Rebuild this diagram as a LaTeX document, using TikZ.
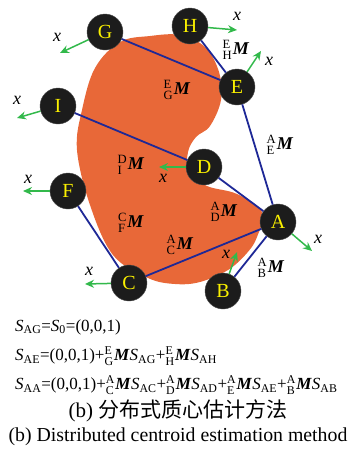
\documentclass[tikz,border=0pt]{standalone}
\usepackage{fontspec}
\usepackage{amsmath}
\setmainfont{Liberation Serif}
\newfontfamily\cjk{Noto Sans CJK SC}
\usepackage{tikz}
\usetikzlibrary{arrows, arrows.meta, positioning}
\definecolor{blobor}{RGB}{232,104,56}
\definecolor{linkblue}{RGB}{30,40,150}
\definecolor{axgreen}{RGB}{50,185,75}
\definecolor{agentfill}{RGB}{28,28,28}
\definecolor{agentyel}{RGB}{250,240,0}
\tikzstyle{link} = [line width=1.8pt,-,linkblue]
\tikzstyle{xarrow} = [line width=1.5pt,-{Stealth[length=9pt,width=8pt]},axgreen]
\newcommand{\pM}[2]{$^{\text{#1}}_{\text{#2}}$\hspace{0.5pt}\textbf{\textit{M}}}
\newcommand{\Sub}[1]{\textit{S}$_{\text{#1}}$}

\begin{document}
\begin{tikzpicture}[
    x=1pt, y=-1pt,
    font=\fontsize{17}{20}\selectfont,
    agent/.style={circle, draw=black!70, fill=agentfill, text=agentyel, minimum size=36pt, inner sep=0pt, font=\fontsize{20}{22}\selectfont},
    axlabel/.style={font=\fontsize{18}{20}\selectfont\itshape},
    mlabel/.style={inner sep=0pt, font=\fontsize{18}{20}\selectfont}
]
    \useasboundingbox (0,0) rectangle (357,456);

    % target region
    \fill[blobor] plot[smooth cycle, tension=0.6] coordinates {
        (120,42) (150,36) (180,35) (205,47) (219,72) (221,100) (210,126)
        (196,137) (188,152) (189,172) (207,186) (237,194) (262,212)
        (257,237) (247,253) (228,270) (200,282) (175,284) (148,278)
        (113,255) (90,205) (77,150) (82,110) (95,68)};

    \node[agent] (G) at (105,32) {G};
    \node[agent] (H) at (190,26) {H};
    \node[agent] (E) at (237,87) {E};
    \node[agent] (I) at (58,106) {I};
    \node[agent] (D) at (204,167) {D};
    \node[agent] (F) at (68,191) {F};
    \node[agent] (A) at (278,222) {A};
    \node[agent] (C) at (129,283) {C};
    \node[agent] (B) at (223,291) {B};

    \draw[link] (G) -- (E);
    \draw[link] (H) -- (E);
    \draw[link] (E) -- (A);
    \draw[link] (I) -- (D);
    \draw[link] (D) -- (A);
    \draw[link] (F) -- (C);
    \draw[link] (C) -- (A);
    \draw[link] (B) -- (A);

    % local x axes
    \coordinate (Gx) at (60,53);
    \coordinate (Ix) at (17,118);
    \coordinate (Hx) at (237,30);
    \coordinate (Ex) at (261,51);
    \coordinate (Fx) at (23,191);
    \coordinate (Dx) at (159,167);
    \coordinate (Cx) at (85,284);
    \coordinate (Ax) at (312,251);
    \coordinate (Bx) at (237,252);
    \draw[xarrow] (G) -- (Gx);
    \draw[xarrow] (I) -- (Ix);
    \draw[xarrow] (H) -- (Hx);
    \draw[xarrow] (E) -- (Ex);
    \draw[xarrow] (F) -- (Fx);
    \draw[xarrow] (D) -- (Dx);
    \draw[xarrow] (C) -- (Cx);
    \draw[xarrow] (A) -- (Ax);
    \draw[xarrow] (B) -- (Bx);

    \node[axlabel] (Gxl) at (57,37) {x};
    \node[axlabel] (Ixl) at (17,100) {x};
    \node[axlabel] (Hxl) at (237,16) {x};
    \node[axlabel] (Exl) at (269,61) {x};
    \node[axlabel] (Fxl) at (28,179) {x};
    \node[axlabel] (Dxl) at (163,178) {x};
    \node[axlabel] (Cxl) at (89,271) {x};
    \node[axlabel] (Axl) at (318,239) {x};
    \node[axlabel] (Bxl) at (226,254) {x};

    % transforms
    \node[mlabel] (MEG) at (177,90) {\pM{E}{G}};
    \node[mlabel] (MEH) at (236,50) {\pM{E}{H}};
    \node[mlabel] (MAE) at (280,145) {\pM{A}{E}};
    \node[mlabel] (MDI) at (131,165) {\pM{D}{I}};
    \node[mlabel] (MCF) at (131,223) {\pM{C}{F}};
    \node[mlabel] (MAD) at (224,212) {\pM{A}{D}};
    \node[mlabel] (MAC) at (180,245) {\pM{A}{C}};
    \node[mlabel] (MAB) at (271,268) {\pM{A}{B}};

    % equations and caption
    \node[anchor=west, inner sep=0pt] (eq1) at (15,327) {\Sub{AG}=\textit{S}$_{\text{0}}$=(0,0,1)};
    \node[anchor=west, inner sep=0pt] (eq2) at (15,356) {\Sub{AE}=(0,0,1)+\pM{E}{G}\Sub{AG}+\pM{E}{H}\Sub{AH}};
    \node[anchor=west, inner sep=0pt] (eq3) at (15,385) {\Sub{AA}=(0,0,1)+\pM{A}{C}\Sub{AC}+\pM{A}{D}\Sub{AD}+\pM{A}{E}\Sub{AE}+\pM{A}{B}\Sub{AB}};
    \node[inner sep=0pt, font=\fontsize{21}{24}\selectfont] (capzh) at (178,411) {(b) {\cjk 分布式质心估计方法}};
    \node[inner sep=0pt, font=\fontsize{19.8}{22}\selectfont] (capen) at (178,437) {(b) Distributed centroid estimation method};
\end{tikzpicture}
\end{document}
